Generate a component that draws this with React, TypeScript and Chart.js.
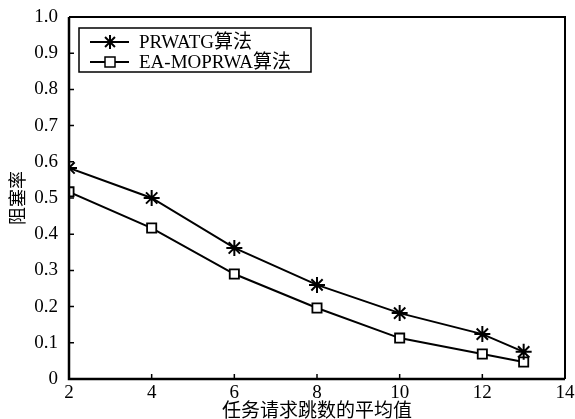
import React, { useEffect, useRef } from "react";
import { Chart, registerables } from "chart.js";

Chart.register(...registerables);

const xValues = [2, 4, 6, 8, 10, 12, 13];
const prwatg = [0.583, 0.5, 0.362, 0.26, 0.182, 0.124, 0.075];
const eaMoprwa = [0.517, 0.417, 0.29, 0.196, 0.113, 0.069, 0.047];
const seriesNames = ["PRWATG算法", "EA-MOPRWA算法"];
const xTitle = "任务请求跳数的平均值";
const yTitle = "阻塞率";

const FONT = "'Liberation Serif', 'Times New Roman', 'Noto Sans CJK SC', serif";

const framePlugin = {
  id: "frameTicks",
  afterDraw(chart: any) {
    const { ctx, chartArea: a, scales } = chart;
    ctx.save();
    ctx.strokeStyle = "#000";
    ctx.lineWidth = 2.5;
    ctx.beginPath();
    ctx.moveTo(a.left, a.top);
    ctx.lineTo(a.left, a.bottom);
    ctx.lineTo(a.right, a.bottom);
    ctx.stroke();
    ctx.lineWidth = 2;
    ctx.beginPath();
    ctx.moveTo(a.left, a.top);
    ctx.lineTo(a.right, a.top);
    ctx.lineTo(a.right, a.bottom);
    ctx.stroke();
    ctx.lineWidth = 1.5;
    ctx.beginPath();
    scales.y.ticks.forEach((t: any) => {
      const y = scales.y.getPixelForValue(t.value);
      ctx.moveTo(a.left, y);
      ctx.lineTo(a.left + 5, y);
    });
    scales.x.ticks.forEach((t: any) => {
      const x = scales.x.getPixelForValue(t.value);
      ctx.moveTo(x, a.bottom);
      ctx.lineTo(x, a.bottom - 5);
    });
    ctx.stroke();

    const lx = 79, ly = 28, lw = 232, lh = 44;
    ctx.fillStyle = "#fff";
    ctx.fillRect(lx, ly, lw, lh);
    ctx.lineWidth = 1.5;
    ctx.strokeRect(lx, ly, lw, lh);
    ctx.font = "19px " + FONT;
    ctx.textBaseline = "middle";
    ctx.fillStyle = "#000";
    chart.data.datasets.forEach((ds: any, i: number) => {
      const cy = ly + 14 + i * 20;
      ctx.lineWidth = 2;
      ctx.beginPath();
      ctx.moveTo(lx + 11, cy);
      ctx.lineTo(lx + 50, cy);
      ctx.stroke();
      const mx = lx + 31;
      if (ds.pointStyle === "star") {
        ctx.lineWidth = 2;
        ctx.beginPath();
        const r = 7;
        for (let k = 0; k < 4; k++) {
          const ang = (k * Math.PI) / 4;
          ctx.moveTo(mx - r * Math.cos(ang), cy - r * Math.sin(ang));
          ctx.lineTo(mx + r * Math.cos(ang), cy + r * Math.sin(ang));
        }
        ctx.stroke();
      } else {
        ctx.lineWidth = 1.5;
        ctx.fillStyle = "#fff";
        ctx.fillRect(mx - 5, cy - 5, 10, 10);
        ctx.strokeRect(mx - 5, cy - 5, 10, 10);
        ctx.fillStyle = "#000";
      }
      ctx.fillText(ds.label, lx + 60, cy + 1);
    });
    ctx.restore();
  },
};

export default function App() {
  const ref = useRef<HTMLCanvasElement>(null);
  useEffect(() => {
    if (!ref.current) return;
    const chart = new Chart(ref.current, {
      type: "line",
      data: {
        datasets: [
          {
            label: seriesNames[0],
            data: xValues.map((x, i) => ({ x, y: prwatg[i] })),
            borderColor: "#000",
            borderWidth: 2,
            pointStyle: "star",
            pointRadius: 8,
            pointBorderWidth: 2,
            pointBorderColor: "#000",
            pointBackgroundColor: "#000",
            tension: 0,
          },
          {
            label: seriesNames[1],
            data: xValues.map((x, i) => ({ x, y: eaMoprwa[i] })),
            borderColor: "#000",
            borderWidth: 2,
            pointStyle: "rect",
            pointRadius: 6.5,
            pointBorderWidth: 1.8,
            pointBorderColor: "#000",
            pointBackgroundColor: "#fff",
            tension: 0,
          },
        ],
      },
      options: {
        animation: false,
        responsive: false,
        layout: { padding: { top: 17, right: 5, left: 8, bottom: 0 } },
        plugins: { legend: { display: false }, tooltip: { enabled: false } },
        scales: {
          x: {
            type: "linear",
            min: 2,
            max: 14,
            grid: { display: false, drawTicks: false },
            border: { display: false },
            ticks: {
              stepSize: 2,
              color: "#000",
              padding: 3,
              font: { family: FONT, size: 19 },
              maxRotation: 0,
            },
            title: {
              display: true,
              text: xTitle,
              color: "#000",
              font: { family: FONT, size: 19 },
              padding: { top: 0, bottom: -4 },
            },
            afterFit: (s: any) => {
              s.height = 40;
              s.paddingLeft = 0;
              s.paddingRight = 0;
            },
          },
          y: {
            type: "linear",
            min: 0,
            max: 1,
            grid: { display: false, drawTicks: false },
            border: { display: false },
            ticks: {
              stepSize: 0.1,
              color: "#000",
              padding: 11,
              font: { family: FONT, size: 19 },
              callback: (v: any) => (Math.abs(v) < 1e-9 ? "0" : Number(v).toFixed(1)),
            },
            title: {
              display: true,
              text: yTitle,
              color: "#000",
              font: { family: FONT, size: 18 },
              padding: { top: 0, bottom: 0 },
            },
            afterFit: (s: any) => {
              s.width = 61;
              s.paddingTop = 0;
              s.paddingBottom = 0;
            },
          },
        },
      },
      plugins: [framePlugin],
    });
    return () => chart.destroy();
  }, []);
  return (
    <div style={{ position: "fixed", left: 0, top: 0, width: 575, height: 419, background: "#fff" }}>
      <canvas ref={ref} width={575} height={419} />
    </div>
  );
}
